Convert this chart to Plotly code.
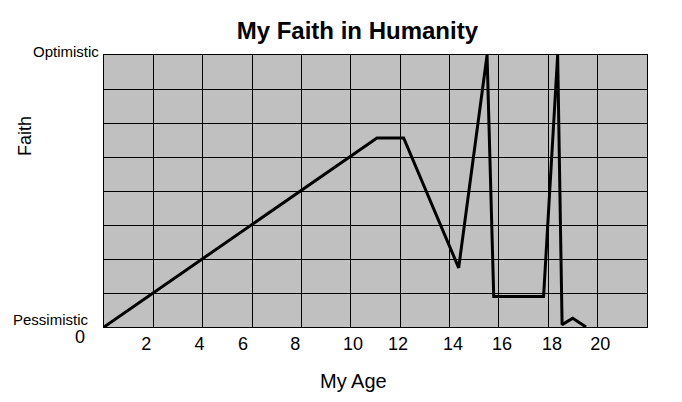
import plotly.graph_objects as go

# Data
ages = [0, 11.06, 12.14, 14.37, 15.52, 15.79, 17.81, 18.38, 18.56, 18.99, 19.53]
faith = [0, 5.56, 5.56, 1.74, 8.0, 0.9, 0.9, 8.0, 0.07, 0.26, 0]

tick_labels = ["2", "4", "6", "8", "10", "12", "14", "16", "18", "20"]
tick_positions = [1.71, 3.87, 5.63, 7.75, 10.09, 11.91, 14.14, 16.13, 18.15, 20.11]

FONT = "Liberation Sans, Arial, sans-serif"

fig = go.Figure()
fig.add_trace(go.Scatter(
    x=ages, y=faith, mode="lines",
    line=dict(color="black", width=3),
    hoverinfo="skip", showlegend=False,
))

fig.update_layout(
    width=682, height=402,
    margin=dict(l=104, r=35, t=55, b=75),
    paper_bgcolor="white",
    plot_bgcolor="#C0C0C0",
    font=dict(family=FONT, color="black"),
    title=dict(
        text="My Faith in Humanity",
        font=dict(family=FONT, size=24, color="black", weight="bold"),
        x=0.524, xanchor="center", xref="container",
        y=0.924, yanchor="middle", yref="container",
    ),
    xaxis=dict(
        range=[0, 22],
        tickmode="array", tickvals=tick_positions, ticktext=tick_labels,
        tickfont=dict(family=FONT, size=18, color="black"),
        showgrid=False, zeroline=False, ticks="",
        showline=True, linecolor="black", linewidth=1, mirror=True,
        minor=dict(tickmode="linear", tick0=0, dtick=2, showgrid=True,
                   gridcolor="black", gridwidth=1, ticks=""),
        fixedrange=True,
    ),
    yaxis=dict(
        range=[0, 8], dtick=1, tick0=0,
        showticklabels=False, ticks="",
        showgrid=True, gridcolor="black", gridwidth=1, zeroline=False,
        showline=True, linecolor="black", linewidth=1, mirror=True,
        fixedrange=True,
    ),
)

fig.add_annotation(text="Optimistic", xref="paper", x=0, yref="y", y=8,
                   xanchor="right", yanchor="middle", xshift=-3, yshift=4,
                   showarrow=False, font=dict(family=FONT, size=15, color="black"))
fig.add_annotation(text="Pessimistic", xref="paper", x=0, yref="y", y=0,
                   xanchor="right", yanchor="middle", xshift=-13, yshift=8,
                   showarrow=False, font=dict(family=FONT, size=15, color="black"))
fig.add_annotation(text="0", xref="paper", x=0, yref="y", y=0,
                   xanchor="center", yanchor="middle", xshift=-24, yshift=-10,
                   showarrow=False, font=dict(family=FONT, size=18, color="black"))
fig.add_annotation(text="My Age", xref="paper", x=(353.7 - 104) / 543, yref="paper", y=0,
                   xanchor="center", yanchor="middle", yshift=-54,
                   showarrow=False, font=dict(family=FONT, size=20, color="black"))
fig.add_annotation(text="Faith", xref="paper", x=0, yref="paper", y=(327 - 136) / 272,
                   xanchor="center", yanchor="middle", xshift=-79, textangle=-90,
                   showarrow=False, font=dict(family=FONT, size=18, color="black"))

fig.write_html("out.html", config={"displayModeBar": False},
               post_script="document.body.style.margin='0';")
